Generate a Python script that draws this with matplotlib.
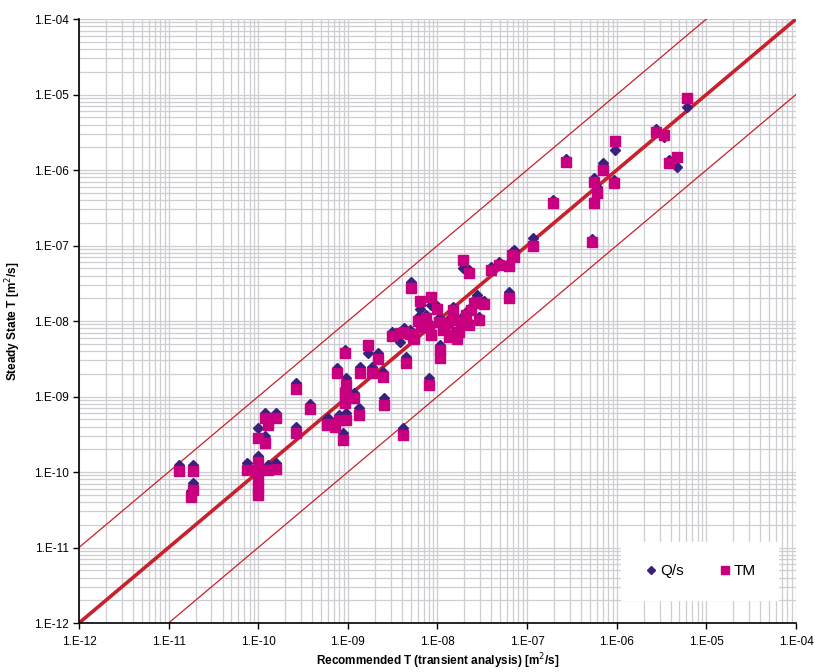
import matplotlib
matplotlib.use("Agg")
import matplotlib.pyplot as plt
from matplotlib.ticker import LogLocator, FixedLocator, NullFormatter
import numpy as np

plt.rcParams['font.family'] = ['Liberation Sans', 'DejaVu Sans']

# Recommended T (transient analysis) [m2/s]
t_rec = [1.30e-11, 1.88e-11, 1.88e-11, 1.77e-11, 7.5e-11, 1.0e-10, 1.0e-10, 1.0e-10, 1.0e-10, 1.0e-10,
         1.29e-10, 1.59e-10, 1.18e-10, 1.28e-10, 1.59e-10, 1.0e-10, 1.2e-10, 2.65e-10, 3.76e-10, 2.67e-10,
         5.8e-10, 7.1e-10, 7.9e-10, 9.6e-10, 8.8e-10, 7.5e-10, 9.6e-10, 9.2e-10, 9.2e-10, 9.2e-10,
         1.18e-9, 1.32e-9, 1.37e-9, 1.67e-9, 1.87e-9, 2.15e-9, 2.45e-9, 2.56e-9, 5.97e-10, 4.09e-9,
         7.98e-9, 1.08e-8, 1.08e-8, 4.47e-9, 3.12e-9, 3.83e-9, 4.99e-9, 5.53e-9, 5.08e-9, 6.45e-9,
         8.49e-9, 4.28e-9, 5.29e-9, 6.01e-9, 6.56e-9, 7.46e-9, 8.13e-9, 8.49e-9, 9.8e-9, 1.05e-8,
         1.14e-8, 1.30e-8, 1.48e-8, 1.48e-8, 1.54e-8, 1.75e-8, 1.83e-8, 2.08e-8, 2.27e-8, 2.37e-8,
         2.58e-8, 2.93e-8, 3.33e-8, 2.74e-8, 1.64e-8, 1.33e-8, 1.91e-8, 2.27e-8, 3.96e-8, 4.9e-8,
         6.34e-8, 6.84e-8, 6.34e-8, 1.15e-7, 7.2e-8, 1.92e-7, 2.71e-7, 6.95e-7, 5.61e-7, 5.96e-7,
         9.2e-7, 5.51e-7, 5.24e-7, 9.6e-7, 2.74e-6, 3.39e-6, 3.78e-6, 4.76e-6, 6.06e-6]

# Steady state T from Q/s [m2/s]
t_qs = [1.24e-10, 1.24e-10, 7.15e-11, 5.6e-11, 1.30e-10, 1.63e-10, 1.13e-10, 8.59e-11, 6.73e-11, 5.78e-11,
        1.24e-10, 1.32e-10, 6.1e-10, 4.74e-10, 6.1e-10, 3.83e-10, 3.0e-10, 1.51e-9, 7.96e-10, 3.94e-10,
        5.03e-10, 4.59e-10, 5.69e-10, 5.99e-10, 3.26e-10, 2.36e-9, 1.76e-9, 4.13e-9, 1.30e-9, 9.55e-10,
        1.10e-9, 6.98e-10, 2.48e-9, 3.8e-9, 2.48e-9, 3.73e-9, 2.11e-9, 9.46e-10, 5.14e-10, 3.79e-10,
        1.74e-9, 4.81e-9, 3.66e-9, 3.37e-9, 7.15e-9, 5.32e-9, 7.6e-9, 6.33e-9, 3.32e-8, 1.43e-8,
        1.63e-8, 8.08e-9, 6.93e-9, 1.13e-8, 9.12e-9, 1.2e-8, 9.41e-9, 7.37e-9, 1.58e-8, 1.1e-8,
        8.33e-9, 1.03e-8, 1.53e-8, 1.13e-8, 7.15e-9, 8.08e-9, 1.1e-8, 1.32e-8, 9.7e-9, 1.53e-8,
        1.9e-8, 1.13e-8, 1.84e-8, 2.21e-8, 6.33e-9, 6.73e-9, 4.99e-8, 4.74e-8, 5.19e-8, 6.04e-8,
        5.87e-8, 8.2e-8, 2.44e-8, 1.25e-7, 8.71e-8, 4.0e-7, 1.4e-6, 1.23e-6, 7.83e-7, 6.01e-7,
        7.37e-7, 4.0e-7, 1.22e-7, 1.84e-6, 3.49e-6, 2.71e-6, 1.36e-6, 1.1e-6, 6.89e-6]

# Steady state T from TM [m2/s]
t_tm = [1.03e-10, 1.03e-10, 5.78e-11, 4.71e-11, 1.06e-10, 1.36e-10, 1.06e-10, 7.83e-11, 6.14e-11, 4.96e-11,
        1.06e-10, 1.10e-10, 5.14e-10, 4.19e-10, 5.14e-10, 2.82e-10, 2.44e-10, 1.26e-9, 6.83e-10, 3.32e-10,
        4.19e-10, 3.98e-10, 4.88e-10, 4.88e-10, 2.65e-10, 2.03e-9, 1.42e-9, 3.77e-9, 1.11e-9, 8.2e-10,
        9.46e-10, 5.69e-10, 2.07e-9, 4.81e-9, 2.07e-9, 3.11e-9, 1.83e-9, 7.71e-10, 4.32e-10, 3.09e-10,
        1.42e-9, 4.13e-9, 3.24e-9, 2.8e-9, 6.39e-9, 7.0e-9, 6.73e-9, 5.72e-9, 2.71e-8, 1.86e-8,
        2.1e-8, 7.21e-9, 6.19e-9, 1.01e-8, 8.25e-9, 1.09e-8, 8.4e-9, 6.53e-9, 1.43e-8, 9.8e-9,
        7.6e-9, 9.3e-9, 1.4e-8, 1.03e-8, 6.53e-9, 7.21e-9, 9.8e-9, 1.2e-8, 8.85e-9, 1.4e-8,
        1.72e-8, 1.03e-8, 1.66e-8, 1.8e-8, 5.72e-9, 6.08e-9, 6.43e-8, 4.28e-8, 4.74e-8, 5.52e-8,
        5.35e-8, 7.48e-8, 2.04e-8, 1.0e-7, 7.11e-8, 3.62e-7, 1.29e-6, 1.0e-6, 7.0e-7, 4.91e-7,
        6.67e-7, 3.62e-7, 1.12e-7, 2.42e-6, 3.22e-6, 2.91e-6, 1.25e-6, 1.47e-6, 8.9e-6]

# x range of the reference lines and their factors
line_x = [1e-12, 1e-4]
line_factors = [1.0, 10.0, 0.1]
tick_vals = [1e-12, 1e-11, 1e-10, 1e-9, 1e-8, 1e-7, 1e-6, 1e-5, 1e-4]
tick_labels = ['1.E-12', '1.E-11', '1.E-10', '1.E-09', '1.E-08', '1.E-07', '1.E-06', '1.E-05', '1.E-04']

fig = plt.figure(figsize=(8.15, 6.72), dpi=100)
ax = fig.add_axes([0.0969, 0.0729, 0.8798, 0.8988])
ax.set_xscale('log')
ax.set_yscale('log')
ax.set_xlim(1e-12, 1e-4)
ax.set_ylim(1e-12, 1e-4)

ax.xaxis.set_major_locator(FixedLocator(tick_vals))
ax.yaxis.set_major_locator(FixedLocator(tick_vals))
ax.xaxis.set_minor_locator(LogLocator(base=10, subs=np.arange(2, 10), numticks=100))
ax.yaxis.set_minor_locator(LogLocator(base=10, subs=np.arange(2, 10), numticks=100))
ax.xaxis.set_minor_formatter(NullFormatter())
ax.yaxis.set_minor_formatter(NullFormatter())
ax.set_xticklabels(tick_labels)
ax.set_yticklabels(tick_labels)
ax.tick_params(which='major', direction='out', length=4, width=1, labelsize=8.5, colors='black')
ax.tick_params(axis='x', which='major', pad=5)
ax.tick_params(which='minor', length=0)
ax.grid(True, which='both', color='#cdcdd2', linewidth=0.9)
ax.set_axisbelow(True)
for s in ['top', 'right']:
    ax.spines[s].set_visible(False)
for s in ['left', 'bottom']:
    ax.spines[s].set_linewidth(1.2)

lx = np.array(line_x)
red = '#c8202c'
for f in line_factors:
    ax.plot(lx, lx * f, color=red, linewidth=2.6 if f == 1.0 else 0.9, zorder=2)

ax.plot(t_rec, t_qs, linestyle='none', marker='D', markersize=5.6, color='#3a1f7d',
        markeredgecolor='#3a1f7d', label='Q/s', zorder=3)
ax.plot(t_rec, t_tm, linestyle='none', marker='s', markersize=7.5, color='#c8007f',
        markeredgecolor='#c8007f', label='TM', zorder=4)

leg = ax.legend(loc='lower right', ncol=2, bbox_to_anchor=(0.975, 0.038), borderaxespad=0,
                fontsize=11, frameon=True, fancybox=False, framealpha=1, edgecolor='white',
                markerscale=0.7, handletextpad=0.1, columnspacing=2.2, handlelength=1.0,
                borderpad=1.45)

ax.set_xlabel('Recommended T (transient analysis) [m$^2$/s]', fontsize=8.5, fontweight='bold', labelpad=3)
ax.set_ylabel('Steady State T [m$^2$/s]', fontsize=8.5, fontweight='bold', labelpad=8)

fig.savefig('out.png', dpi=100)
